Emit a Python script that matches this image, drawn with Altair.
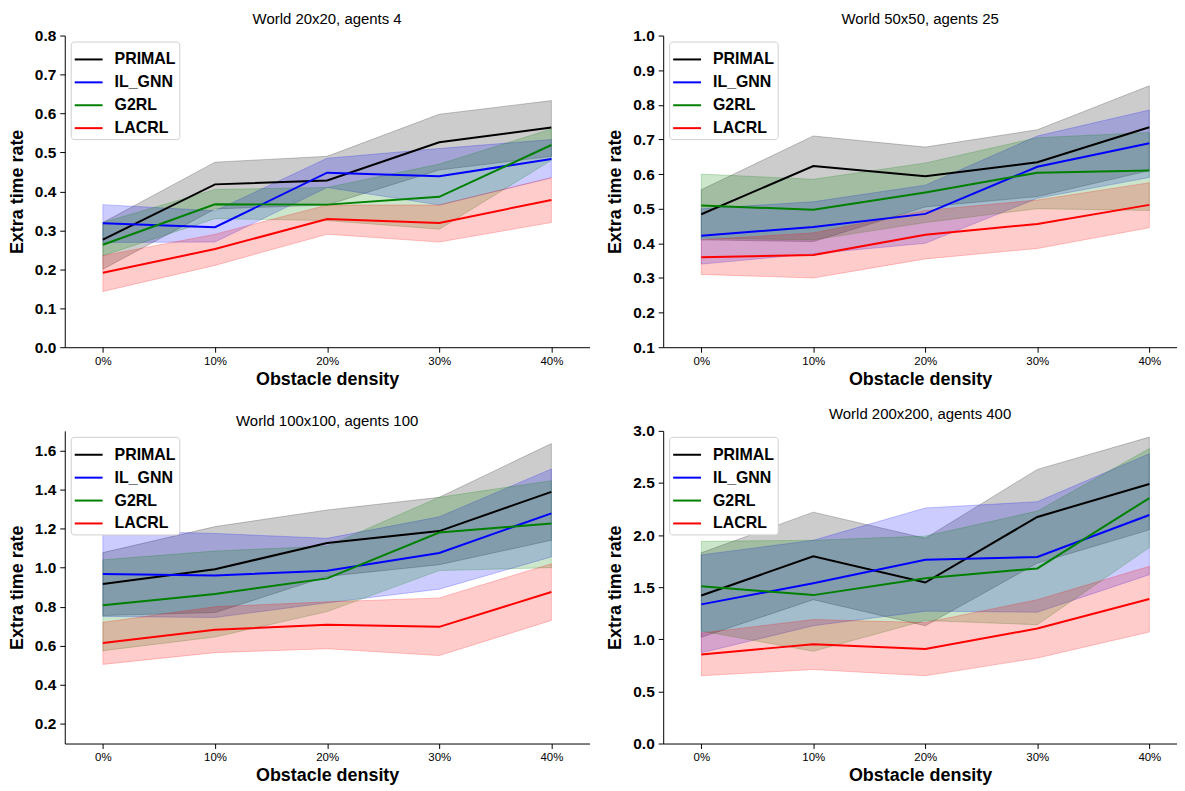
import altair as alt
import pandas as pd

methods = ["PRIMAL", "IL_GNN", "G2RL", "LACRL"]
colors = ["#000000", "#0000ff", "#008000", "#ff0000"]
densities = [0, 10, 20, 30, 40]

titles = ["World 20x20, agents 4", "World 50x50, agents 25",
          "World 100x100, agents 100", "World 200x200, agents 400"]

# Panel 1: World 20x20
p1_mean = {"PRIMAL": [0.276, 0.418, 0.428, 0.526, 0.564],
           "IL_GNN": [0.318, 0.308, 0.448, 0.439, 0.483],
           "G2RL":   [0.263, 0.367, 0.366, 0.386, 0.519],
           "LACRL":  [0.191, 0.252, 0.329, 0.319, 0.378]}
p1_hi = {"PRIMAL": [0.320, 0.475, 0.490, 0.598, 0.633],
         "IL_GNN": [0.366, 0.350, 0.485, 0.510, 0.533],
         "G2RL":   [0.320, 0.405, 0.410, 0.470, 0.560],
         "LACRL":  [0.235, 0.290, 0.365, 0.365, 0.435]}
p1_lo = {"PRIMAL": [0.200, 0.355, 0.365, 0.455, 0.490],
         "IL_GNN": [0.269, 0.270, 0.410, 0.365, 0.435],
         "G2RL":   [0.235, 0.330, 0.325, 0.303, 0.480],
         "LACRL":  [0.143, 0.210, 0.290, 0.270, 0.320]}

# Panel 2: World 50x50
p2_mean = {"PRIMAL": [0.484, 0.623, 0.594, 0.634, 0.735],
           "IL_GNN": [0.422, 0.447, 0.485, 0.621, 0.689],
           "G2RL":   [0.509, 0.497, 0.547, 0.604, 0.610],
           "LACRL":  [0.360, 0.366, 0.425, 0.456, 0.511]}
p2_hi = {"PRIMAL": [0.555, 0.710, 0.678, 0.728, 0.855],
         "IL_GNN": [0.500, 0.520, 0.568, 0.710, 0.785],
         "G2RL":   [0.600, 0.585, 0.632, 0.705, 0.720],
         "LACRL":  [0.410, 0.430, 0.495, 0.525, 0.575]}
p2_lo = {"PRIMAL": [0.410, 0.405, 0.505, 0.535, 0.610],
         "IL_GNN": [0.340, 0.370, 0.400, 0.530, 0.590],
         "G2RL":   [0.415, 0.410, 0.460, 0.500, 0.495],
         "LACRL":  [0.310, 0.300, 0.355, 0.385, 0.445]}

# Panel 3: World 100x100
p3_mean = {"PRIMAL": [0.916, 0.992, 1.126, 1.187, 1.388],
           "IL_GNN": [0.968, 0.960, 0.984, 1.075, 1.278],
           "G2RL":   [0.807, 0.865, 0.945, 1.180, 1.226],
           "LACRL":  [0.614, 0.682, 0.708, 0.697, 0.875]}
p3_hi = {"PRIMAL": [1.077, 1.210, 1.295, 1.360, 1.635],
         "IL_GNN": [1.190, 1.175, 1.150, 1.260, 1.505],
         "G2RL":   [1.040, 1.085, 1.110, 1.360, 1.445],
         "LACRL":  [0.720, 0.800, 0.825, 0.845, 1.020]}
p3_lo = {"PRIMAL": [0.755, 0.770, 0.955, 1.015, 1.140],
         "IL_GNN": [0.750, 0.745, 0.820, 0.890, 1.055],
         "G2RL":   [0.575, 0.645, 0.775, 0.985, 1.000],
         "LACRL":  [0.505, 0.565, 0.585, 0.550, 0.730]}

# Panel 4: World 200x200
p4_mean = {"PRIMAL": [1.420, 1.796, 1.545, 2.174, 2.490],
           "IL_GNN": [1.335, 1.538, 1.764, 1.790, 2.193],
           "G2RL":   [1.510, 1.424, 1.586, 1.680, 2.355],
           "LACRL":  [0.855, 0.953, 0.906, 1.103, 1.386]}
p4_hi = {"PRIMAL": [1.830, 2.220, 1.970, 2.630, 2.940],
         "IL_GNN": [1.810, 1.950, 2.260, 2.320, 2.780],
         "G2RL":   [1.940, 1.950, 1.990, 2.230, 2.830],
         "LACRL":  [1.060, 1.190, 1.160, 1.380, 1.700]}
p4_lo = {"PRIMAL": [1.020, 1.380, 1.130, 1.730, 2.050],
         "IL_GNN": [0.870, 1.130, 1.270, 1.260, 1.620],
         "G2RL":   [1.080, 0.885, 1.180, 1.140, 1.880],
         "LACRL":  [0.650, 0.710, 0.650, 0.820, 1.070]}

y_domains = [[0.0, 0.8], [0.1, 1.0], [0.1, 1.7], [0.0, 3.0]]
y_ticks = [[0.0, 0.1, 0.2, 0.3, 0.4, 0.5, 0.6, 0.7, 0.8],
           [0.1, 0.2, 0.3, 0.4, 0.5, 0.6, 0.7, 0.8, 0.9, 1.0],
           [0.2, 0.4, 0.6, 0.8, 1.0, 1.2, 1.4, 1.6],
           [0.0, 0.5, 1.0, 1.5, 2.0, 2.5, 3.0]]

panels = [(p1_mean, p1_lo, p1_hi), (p2_mean, p2_lo, p2_hi),
          (p3_mean, p3_lo, p3_hi), (p4_mean, p4_lo, p4_hi)]

FONT = "Liberation Sans"


def make_df(mean, lo, hi):
    rows = []
    for m in methods:
        for k, d in enumerate(densities):
            rows.append({"method": m, "density": d, "mean": mean[m][k],
                         "lo": lo[m][k], "hi": hi[m][k]})
    return pd.DataFrame(rows)


def make_panel(idx, width, height, xmax):
    mean, lo, hi = panels[idx]
    df = make_df(mean, lo, hi)
    color_scale = alt.Scale(domain=methods, range=colors)
    x = alt.X("density:Q",
              scale=alt.Scale(domain=[-3.4, xmax], nice=False, zero=False),
              axis=alt.Axis(values=densities, labelExpr="datum.value + '%'",
                            title="Obstacle density"))
    yscale = alt.Scale(domain=y_domains[idx], nice=False, zero=False)
    yaxis = alt.Axis(values=y_ticks[idx], format=".1f",
                     title="Extra time rate")
    base = alt.Chart(df)
    band = base.mark_area(fillOpacity=0.2, strokeOpacity=0.22, strokeWidth=1).encode(
        x=x,
        y=alt.Y("lo:Q", scale=yscale, axis=yaxis),
        y2="hi:Q",
        fill=alt.Fill("method:N", scale=color_scale, legend=None),
        stroke=alt.Stroke("method:N", scale=color_scale, legend=None),
        detail="method:N",
    )
    legend = alt.Legend(
        title=None, orient="top-left", offset=6,
        labelFont=FONT, labelFontSize=16, labelFontWeight="bold",
        labelColor="black", symbolType="stroke", symbolStrokeWidth=2,
        symbolSize=784, strokeColor="#d0d0d0", fillColor="white",
        cornerRadius=3, padding=3, rowPadding=-1, labelOffset=11,
    )
    line = base.mark_line(strokeWidth=2).encode(
        x=x,
        y=alt.Y("mean:Q", scale=yscale, axis=yaxis),
        color=alt.Color("method:N", scale=color_scale, legend=legend),
        detail="method:N",
    )
    return alt.layer(band, line).properties(
        width=width, height=height,
        title=alt.TitleParams(titles[idx], fontSize=15, fontWeight="normal",
                              font=FONT, offset=2, color="black"),
    )


c1 = make_panel(0, 527, 313, 43.4)
c2 = make_panel(1, 516, 313, 42.47)
c3 = make_panel(2, 527, 314, 43.4)
c4 = make_panel(3, 516, 314, 42.47)

row1 = alt.hconcat(c1, c2, spacing=17).resolve_scale(color="independent")
row2 = alt.hconcat(c3, c4, spacing=17).resolve_scale(color="independent")

chart = alt.vconcat(row1, row2, spacing=18).resolve_scale(
    color="independent"
).configure(
    padding={"left": 0, "top": 2, "right": 0, "bottom": 0}, font=FONT,
).configure_view(stroke=None).configure_axis(
    grid=False, domainColor="black", tickColor="black", labelColor="black",
    titleColor="black", labelFont=FONT, titleFont=FONT, tickSize=5,
    domainWidth=1, tickWidth=1,
).configure_axisX(
    labelFontSize=11.5, labelFontWeight="normal", titleFontSize=18,
    titleFontWeight="bold", titlePadding=4, labelPadding=3,
).configure_axisY(
    labelFontSize=15.5, labelFontWeight="bold", titleFontSize=18,
    titleFontWeight="bold", titlePadding=8, labelPadding=4,
)

chart.save("out.html", embed_options={"renderer": "svg", "actions": False})
